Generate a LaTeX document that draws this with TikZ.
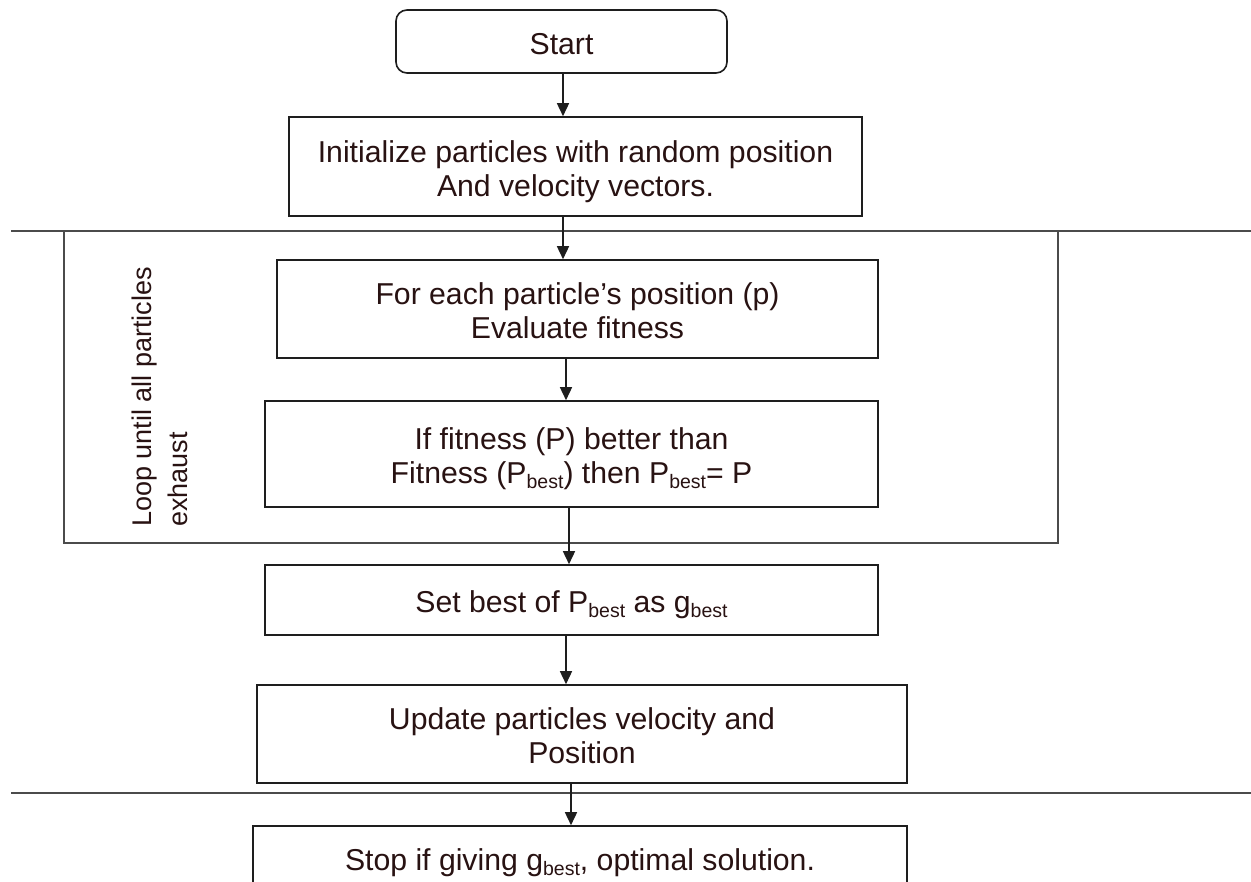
\documentclass[tikz,border=0pt]{standalone}
\usepackage{fontspec}
\setmainfont{Liberation Sans}
\usetikzlibrary{arrows.meta}
\definecolor{txt}{RGB}{40,18,18}
\definecolor{ln}{RGB}{30,30,30}
\newcommand{\sbs}[1]{\raisebox{-5pt}{\fontsize{19.5}{19.5}\selectfont #1}}
\newcommand{\dn}[1]{\raisebox{-6pt}[\height][\depth]{\begin{tabular}{@{}c@{}}#1\end{tabular}}}
\tikzset{
  box/.style={draw=ln, line width=1.6pt, fill=white, inner sep=0pt,
    text=txt, font=\fontsize{30.2}{34}\selectfont},
  arr/.style={draw=ln, line width=1.6pt, -{Triangle[length=13pt,width=12pt]}},
  rule/.style={draw=ln!80, line width=1.8pt}
}
\begin{document}
\begin{tikzpicture}[x=1pt,y=-1pt]
\clip (0,0) rectangle (1251,882);
\fill[white] (0,0) rectangle (1251,882);
% loop frame and separators
\coordinate (hl1) at (11,231);
\coordinate (hr1) at (1251,231);
\coordinate (hl2) at (11,793);
\coordinate (hr2) at (1251,793);
\draw[rule] (hl1) -- (hr1);
\draw[rule] (hl2) -- (hr2);
\coordinate (lt) at (64,231);
\coordinate (lb) at (64,543);
\coordinate (rb) at (1058,543);
\coordinate (rt) at (1058,231);
\draw[rule] (lt) -- (lb) -- (rb) -- (rt);
\node[rotate=90, anchor=west, inner sep=0pt, align=left, text=txt,
  font=\fontsize{27}{36}\selectfont] (loop) at (160,527)
  {Loop until all particles\\exhaust};
% boxes
\node[box, rounded corners=11pt, minimum width=331pt, minimum height=63pt] (start) at (561.5,41.5) {\dn{Start}};
\node[box, minimum width=573pt, minimum height=99pt] (init) at (575.5,166.5)
  {\dn{Initialize particles with random position\\And velocity vectors.}};
\node[box, minimum width=601pt, minimum height=98pt] (eval) at (577.5,309)
  {\dn{For each particle’s position (p)\\Evaluate fitness}};
\node[box, minimum width=613pt, minimum height=106pt] (cmp) at (571.5,454)
  {\dn{If fitness (P) better than\\Fitness (P\sbs{best}) then P\sbs{best}= P}};
\node[box, minimum width=613pt, minimum height=70pt] (setb) at (571.5,600)
  {\dn{Set best of P\sbs{best} as g\sbs{best}}};
\node[box, minimum width=650pt, minimum height=98pt] (upd) at (582,734)
  {\dn{Update particles velocity and\\Position}};
\node[box, minimum width=654pt, minimum height=64pt] (stop) at (580,858)
  {\dn{Stop if giving g\sbs{best}, optimal solution.}};
% connectors
\draw[arr] ([xshift=1.5pt]start.south) -- ([xshift=1.5pt]start.south |- init.north);
\draw[arr] ([xshift=-12.5pt]init.south) -- ([xshift=-12.5pt]init.south |- eval.north);
\draw[arr] ([xshift=-11.5pt]eval.south) -- ([xshift=-11.5pt]eval.south |- cmp.north);
\draw[arr] ([xshift=-2.5pt]cmp.south) -- ([xshift=-2.5pt]cmp.south |- setb.north);
\draw[arr] ([xshift=-5.5pt]setb.south) -- ([xshift=-5.5pt]setb.south |- upd.north);
\draw[arr] ([xshift=-11pt]upd.south) -- ([xshift=-11pt]upd.south |- stop.north);
\end{tikzpicture}
\end{document}
